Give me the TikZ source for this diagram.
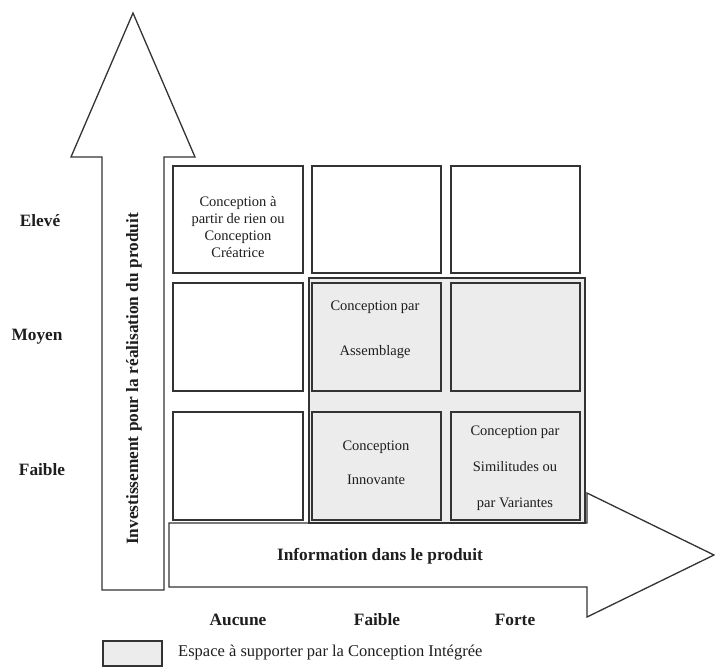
\documentclass[tikz,border=0pt]{standalone}
\usepackage{fontspec}
\setmainfont{Liberation Serif}
\definecolor{ink}{HTML}{333333}
\definecolor{letters}{HTML}{1E1E1E}
\definecolor{shade}{HTML}{ECECEC}
\begin{document}
\begin{tikzpicture}[x=1pt,y=-1pt,
  outline/.style={draw=ink,line width=1.3pt,line join=miter},
  arrowshape/.style={outline,fill=white},
  cell/.style={outline,fill=white,inner sep=0pt,outer sep=0pt},
  shadedcell/.style={cell,fill=shade},
  zone/.style={outline,fill=shade},
  axislabel/.style={font=\fontsize{17.3}{20}\selectfont\bfseries,text=letters,inner sep=0pt},
  celltext/.style={font=\fontsize{14.5}{17.3}\selectfont,align=center,text=letters,inner sep=0pt},
  legendtext/.style={font=\fontsize{16.5}{19}\selectfont,text=letters,inner sep=0pt},
]
\useasboundingbox (0,0) rectangle (715,667);

% vertical axis arrow
\draw[arrowshape] (133,13) -- (195,157) -- (164,157) -- (164,590)
  -- (102,590) -- (102,157) -- (71,157) -- cycle;
\node[axislabel,rotate=90] (yaxis) at (134,379)
  {Investissement pour la réalisation du produit};

% horizontal axis arrow
\draw[arrowshape] (169,523) -- (587,523) -- (587,493) -- (714,555)
  -- (587,617) -- (587,587) -- (169,587) -- cycle;
\node[axislabel] (xaxis) at (380,556) {Information dans le produit};

% zone covered by integrated design
\draw[zone] (309,278) rectangle (585,523);

% grid of design types
\node[cell,minimum width=130pt,minimum height=107pt] (c11) at (238,219.5) {};
\node[cell,minimum width=129pt,minimum height=107pt] (c12) at (376.5,219.5) {};
\node[cell,minimum width=129pt,minimum height=107pt] (c13) at (515.5,219.5) {};
\node[cell,minimum width=130pt,minimum height=108pt] (c21) at (238,337) {};
\node[shadedcell,minimum width=129pt,minimum height=108pt] (c22) at (376.5,337) {};
\node[shadedcell,minimum width=129pt,minimum height=108pt] (c23) at (515.5,337) {};
\node[cell,minimum width=130pt,minimum height=108pt] (c31) at (238,466) {};
\node[shadedcell,minimum width=129pt,minimum height=108pt] (c32) at (376.5,466) {};
\node[shadedcell,minimum width=129pt,minimum height=108pt] (c33) at (515.5,466) {};

% cell texts
\node[celltext] (t11) at (238,227)
  {Conception à\\partir de rien ou\\Conception\\Créatrice};
\node[celltext] (t22) at (375,330)
  {Conception par\\[28pt]Assemblage};
\node[celltext] (t32) at (376,463)
  {Conception\\[17pt]Innovante};
\node[celltext] (t33) at (515,468)
  {Conception par\\[18.5pt]Similitudes ou\\[18.5pt]par Variantes};

% level labels
\node[axislabel] (elev) at (40,221) {Elevé};
\node[axislabel] (moy) at (37,337) {Moyen};
\node[axislabel] (faibley) at (42,470) {Faible};
\node[axislabel] (aucune) at (238,620) {Aucune};
\node[axislabel] (faiblex) at (377,620) {Faible};
\node[axislabel] (forte) at (515,620) {Forte};

% legend
\draw[zone] (103,641) rectangle (162,666);
\node[legendtext,anchor=west] (legend) at (178,653)
  {Espace à supporter par la Conception Intégrée};
\end{tikzpicture}
\end{document}
